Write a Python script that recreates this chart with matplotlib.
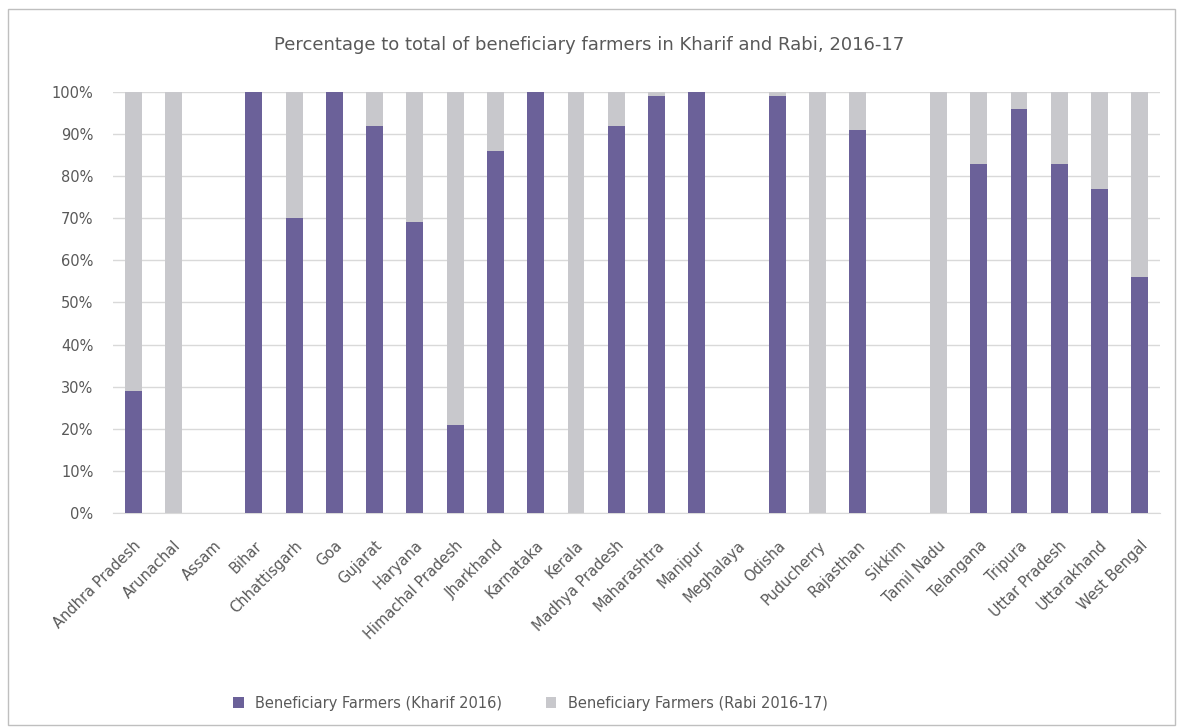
import matplotlib
matplotlib.use("Agg")
import matplotlib.pyplot as plt
import numpy as np

states = ["Andhra Pradesh", "Arunachal", "Assam", "Bihar", "Chhattisgarh", "Goa",
          "Gujarat", "Haryana", "Himachal Pradesh", "Jharkhand", "Karnataka", "Kerala",
          "Madhya Pradesh", "Maharashtra", "Manipur", "Meghalaya", "Odisha", "Puducherry",
          "Rajasthan", "Sikkim", "Tamil Nadu", "Telangana", "Tripura", "Uttar Pradesh",
          "Uttarakhand", "West Bengal"]
kharif = [29, 0, 0, 100, 70, 100, 92, 69, 21, 86, 100, 0,
          92, 99, 100, 0, 99, 0, 91, 0, 0, 83, 96, 83, 77, 56]
rabi = [71, 100, 0, 0, 30, 0, 8, 31, 79, 14, 0, 100,
        8, 1, 0, 0, 1, 100, 9, 0, 100, 17, 4, 17, 23, 44]
yticks = [0, 10, 20, 30, 40, 50, 60, 70, 80, 90, 100]
title = "Percentage to total of beneficiary farmers in Kharif and Rabi, 2016-17"
legend_labels = ["Beneficiary Farmers (Kharif 2016)", "Beneficiary Farmers (Rabi 2016-17)"]

fig = plt.figure(figsize=(11.79, 7.27), dpi=100)
fig.patch.set_facecolor("white")
ax = fig.add_axes([0.0958, 0.2944, 0.888, 0.5791])

x = np.arange(len(states))
c_k = "#6B6199"
c_r = "#C8C8CC"
b1 = ax.bar(x, kharif, width=0.42, color=c_k, label=legend_labels[0], zorder=3)
b2 = ax.bar(x, rabi, width=0.42, bottom=kharif, color=c_r, label=legend_labels[1], zorder=3)

ax.set_xlim(-0.5, len(states) - 0.5)
ax.set_ylim(0, 100)
ax.set_yticks(yticks)
ax.set_yticklabels([f"{v}%" for v in yticks], fontsize=10.5, color="#595959")
ax.set_xticks(x)
ax.set_xticklabels(states, rotation=45, ha="right", rotation_mode="anchor",
                   fontsize=10.5, color="#595959")
ax.yaxis.grid(True, color="#D9D9D9", linewidth=1, zorder=0)
ax.set_axisbelow(True)
for s in ["top", "right", "left"]:
    ax.spines[s].set_visible(False)
ax.spines["bottom"].set_color("#D9D9D9")
ax.tick_params(axis="y", length=0, pad=14)
ax.tick_params(axis="x", length=0, pad=18)

fig.text(0.5, 0.938, title, ha="center", va="center", fontsize=13, color="#595959")

fig.legend(handles=[b1, b2], labels=legend_labels, loc="center", ncol=2,
           bbox_to_anchor=(0.45, 0.033), frameon=False, fontsize=10.5,
           handlelength=0.7, handleheight=0.7, columnspacing=3,
           labelcolor="#595959")

# outer frame
frame = plt.Rectangle((0.007, 0.003), 0.99, 0.985, transform=fig.transFigure,
                      fill=False, edgecolor="#BFBFBF", linewidth=1)
fig.patches.append(frame)

fig.savefig("out.png", dpi=100)
